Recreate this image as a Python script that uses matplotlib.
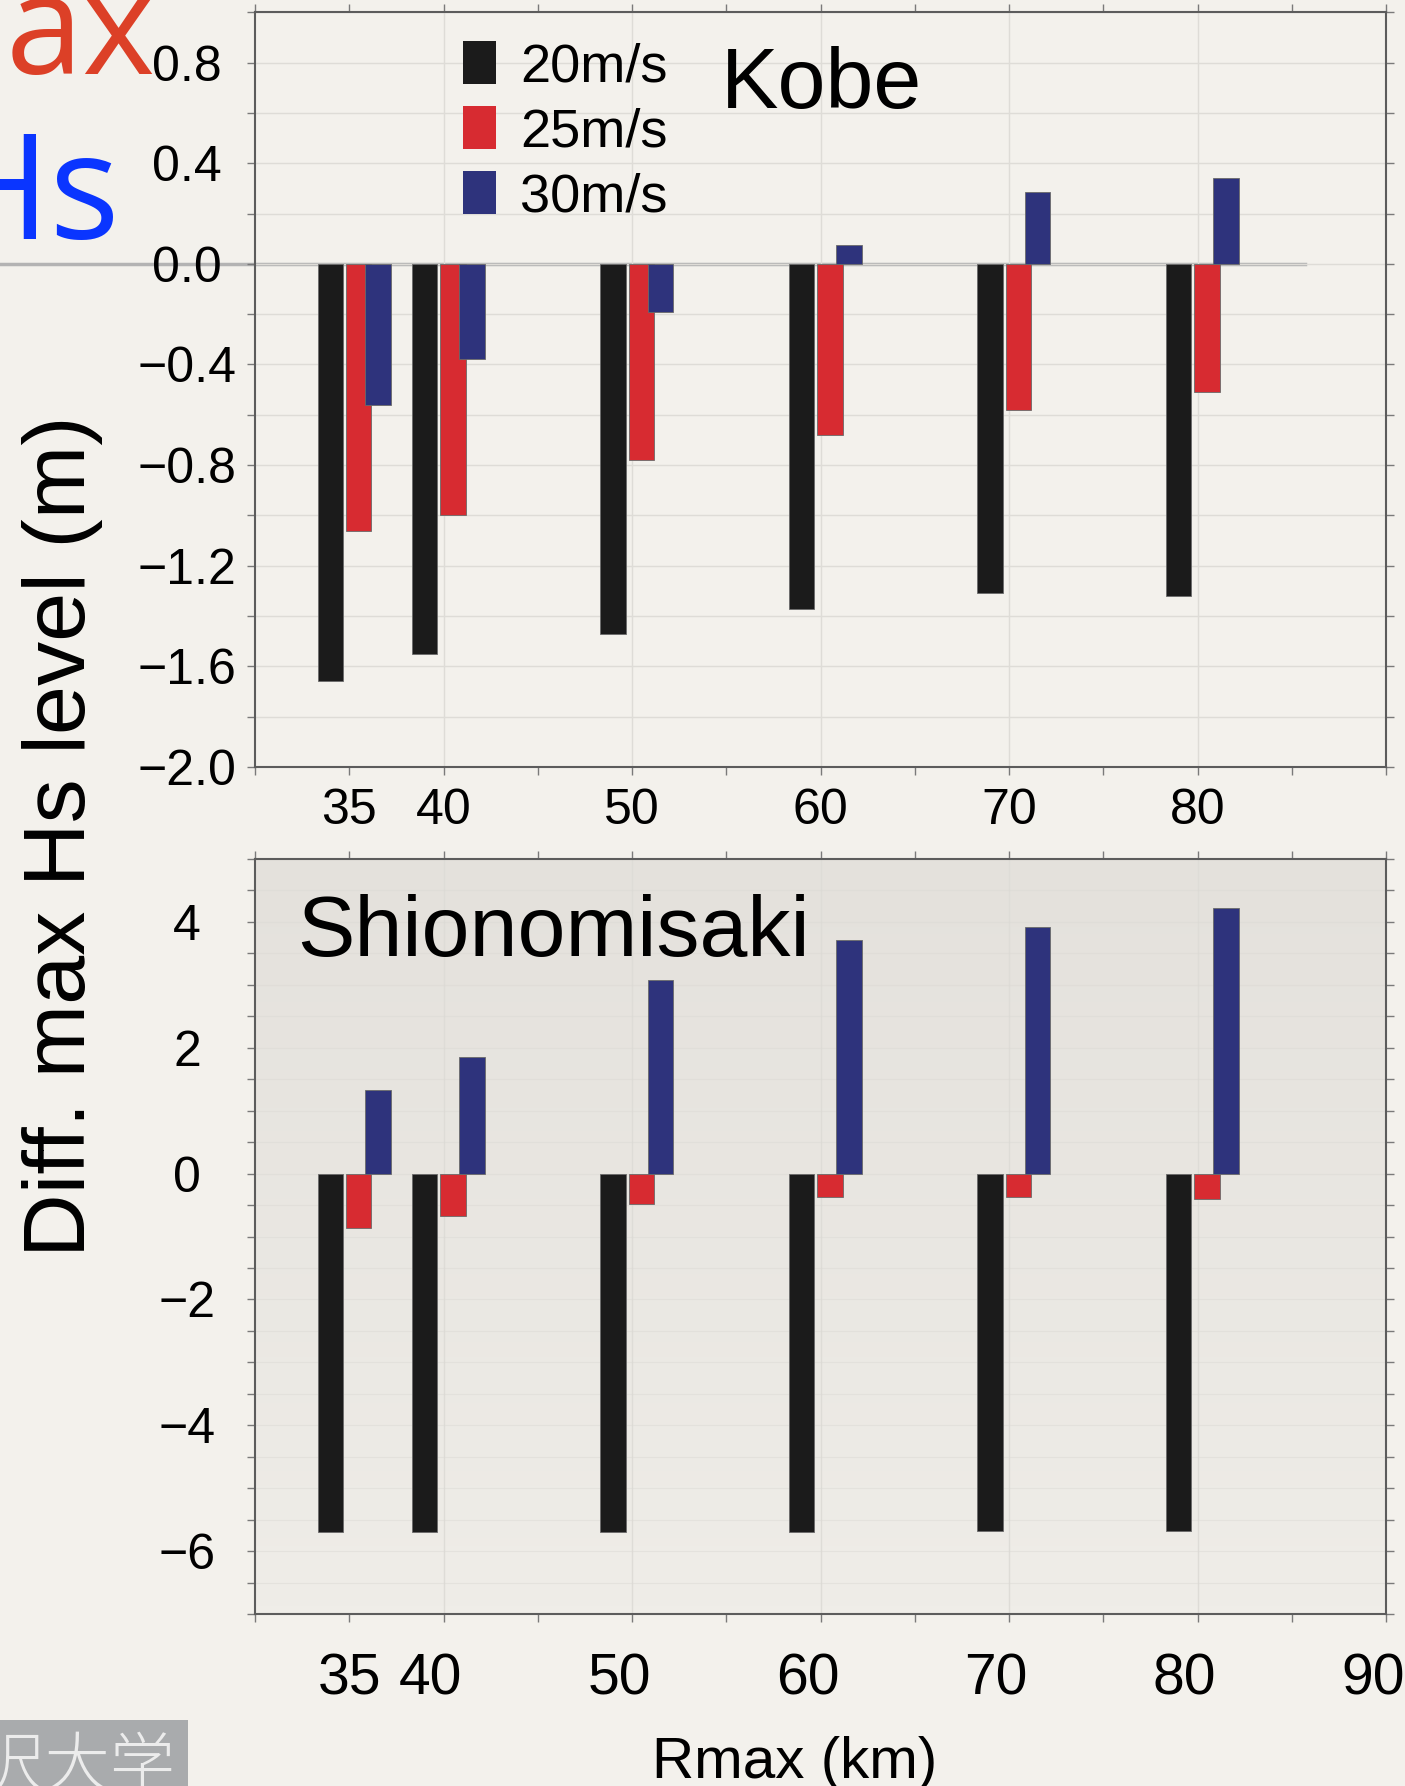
import numpy as np
import matplotlib
matplotlib.use('Agg')
import matplotlib.pyplot as plt
from matplotlib.ticker import MultipleLocator
from matplotlib.patches import Patch, Rectangle
from matplotlib.transforms import ScaledTranslation

plt.rcParams['font.family'] = ['Liberation Sans', 'DejaVu Sans']

# data
rmax = [35, 40, 50, 60, 70, 80]
speeds = ['20m/s', '25m/s', '30m/s']
kobe_20 = [-1.66, -1.55, -1.47, -1.37, -1.31, -1.32]
kobe_25 = [-1.06, -1.00, -0.78, -0.68, -0.58, -0.51]
kobe_30 = [-0.56, -0.38, -0.19, 0.075, 0.285, 0.34]
shio_20 = [-5.69, -5.70, -5.69, -5.69, -5.68, -5.68]
shio_25 = [-0.86, -0.68, -0.49, -0.38, -0.37, -0.41]
shio_30 = [1.33, 1.85, 3.08, 3.71, 3.92, 4.22]
top_yticks = [-2.0, -1.6, -1.2, -0.8, -0.4, 0.0, 0.4, 0.8]
top_xlabels = ['35', '40', '50', '60', '70', '80']
bot_yticks = [-6, -4, -2, 0, 2, 4]
bot_xticks = [35, 40, 50, 60, 70, 80, 90]
bot_xlabels = ['35', '40', '50', '60', '70', '80', '90']

colors = ['#1b1b1b', '#d72b31', '#2e337c']
offsets = [-1.0, 0.5, 1.52]
width = 1.36
bg = '#f3f1ec'

W, H = 1405, 1786
fig = plt.figure(figsize=(W / 100, H / 100), dpi=100, facecolor=bg)

def px(x0, y0, x1, y1):
    return [x0 / W, 1 - y1 / H, (x1 - x0) / W, (y1 - y0) / H]

ax1 = fig.add_axes(px(255, 12.3, 1386, 767))
ax2 = fig.add_axes(px(255, 859, 1386, 1614))

ax1.set_facecolor(bg)
ax2.set_facecolor('#e8e5e0')
# soft gradient behind the lower panel
grad = np.linspace(0, 1, 100).reshape(-1, 1)
cm = matplotlib.colors.LinearSegmentedColormap.from_list('g', ['#e4e1dc', '#efede8'])
ax2.imshow(grad, extent=[30, 90, -7, 5], aspect='auto', cmap=cm, origin='upper', zorder=0)

x = np.array(rmax, dtype=float)
for ax, series in [(ax1, [kobe_20, kobe_25, kobe_30]), (ax2, [shio_20, shio_25, shio_30])]:
    for vals, off, c in zip(series, offsets, colors):
        ax.bar(x + off, vals, width=width, color=c, edgecolor='#6a6a6a', linewidth=0.6, zorder=3)
    ax.set_xlim(30, 90)
    for s in ax.spines.values():
        s.set_color('#5c5c5c')
        s.set_linewidth(1.5)
    ax.tick_params(which='both', direction='out', length=6, width=1, color='#7a7a7a',
                   top=True, right=True, labelsize=36)
    ax.xaxis.set_minor_locator(MultipleLocator(5))
    for xv in range(40, 90, 10):
        ax.axvline(xv, color='#dedcd7', lw=1, zorder=1)

# top panel
ax1.set_ylim(-2.0, 1.0)
ax1.set_yticks(top_yticks)
ax1.set_yticklabels([f'{v:.1f}'.replace('-', '\u2212') for v in top_yticks])
ax1.yaxis.set_minor_locator(MultipleLocator(0.2))
ax1.grid(axis='y', which='both', color='#dedcd7', lw=1, zorder=1)
ax1.set_xticks(rmax)
ax1.set_xticklabels(top_xlabels)
ax1.tick_params(axis='x', pad=9)
ax1.tick_params(axis='y', pad=43)
for lab in ax1.get_yticklabels():
    lab.set_horizontalalignment('center')
ax1.axhline(0, xmin=-0.226, xmax=0.928, color='#b3b3b3', lw=2.5, clip_on=False, zorder=0.5)
ax1.text(0.412, 0.955, 'Kobe', transform=ax1.transAxes, fontsize=62, va='top', ha='left')
handles = [Patch(facecolor=c, edgecolor='none') for c in colors]
ax1.legend(handles, speeds, loc='upper left', bbox_to_anchor=(0.184, 0.962), frameon=False,
           fontsize=39, handlelength=0.6, handleheight=0.85, handletextpad=0.45,
           labelspacing=0.25, borderpad=0, borderaxespad=0)

# bottom panel
ax2.set_ylim(-7, 5)
ax2.set_yticks(bot_yticks)
ax2.set_yticklabels([str(v).replace('-', '\u2212') for v in bot_yticks])
ax2.yaxis.set_minor_locator(MultipleLocator(0.5))
ax2.grid(axis='y', which='both', color='#dcdad5', lw=0.8, alpha=0.5, zorder=1)
ax2.set_xticks(bot_xticks)
ax2.set_xticklabels(bot_xlabels, fontsize=41)
ax2.tick_params(axis='x', pad=22)
ax2.tick_params(axis='y', pad=43)
for lab in ax2.get_yticklabels():
    lab.set_horizontalalignment('center')
for lab in ax2.get_xticklabels()[1:]:
    lab.set_transform(lab.get_transform() + ScaledTranslation(-0.13, 0, fig.dpi_scale_trans))
ax2.text(0.037, 0.872, 'Shionomisaki', transform=ax2.transAxes, fontsize=62, va='baseline', ha='left')

# axis titles
fig.text(63 / W, 1 - 836 / H, 'Diff. max Hs level (m)', rotation=90, fontsize=63.5,
         ha='center', va='center', family=['Liberation Sans Narrow', 'Liberation Sans'])
fig.text(795 / W, 1 - 1778 / H, 'Rmax (km)', fontsize=42, ha='center', va='baseline')

# bits of the slide around the chart
fig.text(6 / W, 1 - 74 / H, 'ax', fontsize=100, color='#dc4027', ha='left', va='baseline',
         family=['Open Sans', 'DejaVu Sans'])
fig.text(-58 / W, 1 - 239 / H, 'Hs', fontsize=106, color='#0a35ff', ha='left', va='baseline',
         family=['Open Sans', 'DejaVu Sans'])
fig.patches.append(Rectangle((0, 0), 188 / W, 66 / H, transform=fig.transFigure,
                             facecolor='#a9abad', edgecolor='none'))
fig.text(176 / W, 1 - 1734 / H, '金沢大学', fontsize=47, color='#ececec', ha='right', va='top',
         family=['Noto Sans CJK JP', 'DejaVu Sans'], fontweight='light')

fig.savefig('out.png', dpi=100, facecolor=bg)
